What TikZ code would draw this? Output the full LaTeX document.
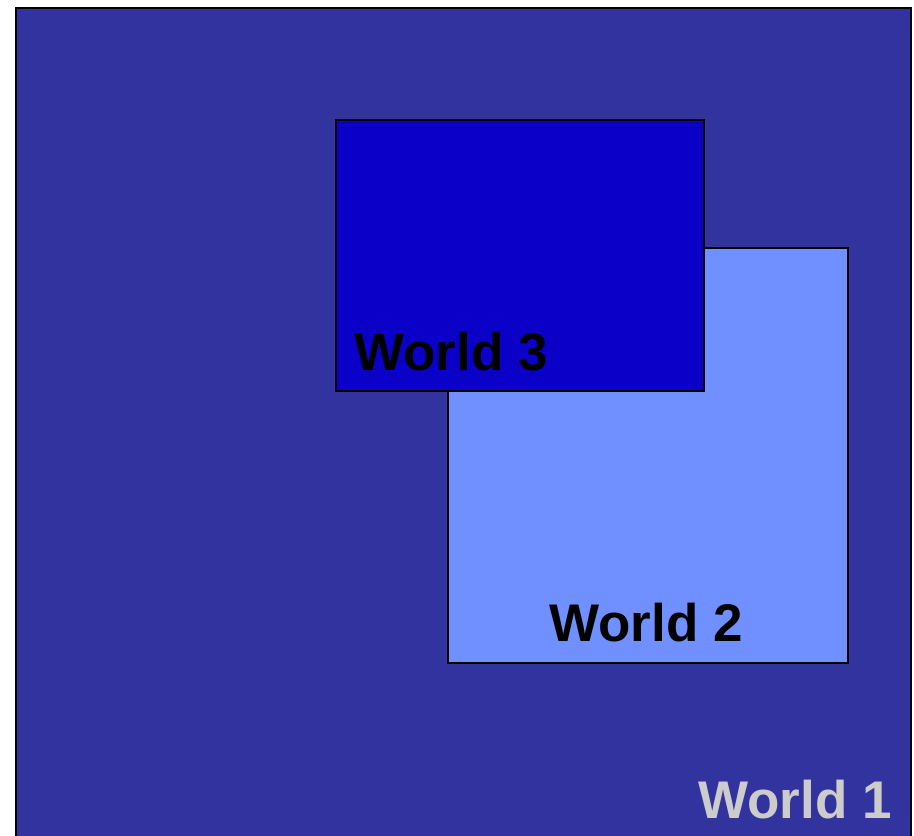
\documentclass[tikz,border=0pt]{standalone}
\usepackage{fontspec}
\setmainfont{Liberation Sans}
\usetikzlibrary{positioning}
\definecolor{wone}{RGB}{51,51,160}
\definecolor{wtwo}{RGB}{112,144,255}
\definecolor{wthree}{RGB}{10,0,200}
\definecolor{lblgray}{RGB}{204,204,204}
\tikzset{
  world/.style={rectangle, draw=black, line width=1.6pt, inner sep=0pt, anchor=north west},
  wlbl/.style={font=\fontsize{53}{53}\selectfont\bfseries, inner sep=0pt, anchor=base west},
}

\begin{document}
\begin{tikzpicture}[x=1pt,y=-1pt]
\useasboundingbox (0,0) rectangle (914,836);
\clip (0,0) rectangle (914,836);
\node[world, fill=wone, minimum width=895pt, minimum height=900pt] (w1) at (15,7) {};
\node[world, fill=wtwo, minimum width=400pt, minimum height=415pt] (w2) at (447,247) {};
\node[world, fill=wthree, minimum width=368pt, minimum height=271pt] (w3) at (335,119) {};
\node[wlbl, text=black] (l3) at (354,370) {World 3};
\node[wlbl, text=black] (l2) at (549,641) {World 2};
\node[wlbl, text=lblgray] (l1) at (698,818) {World 1};
\end{tikzpicture}
\end{document}
